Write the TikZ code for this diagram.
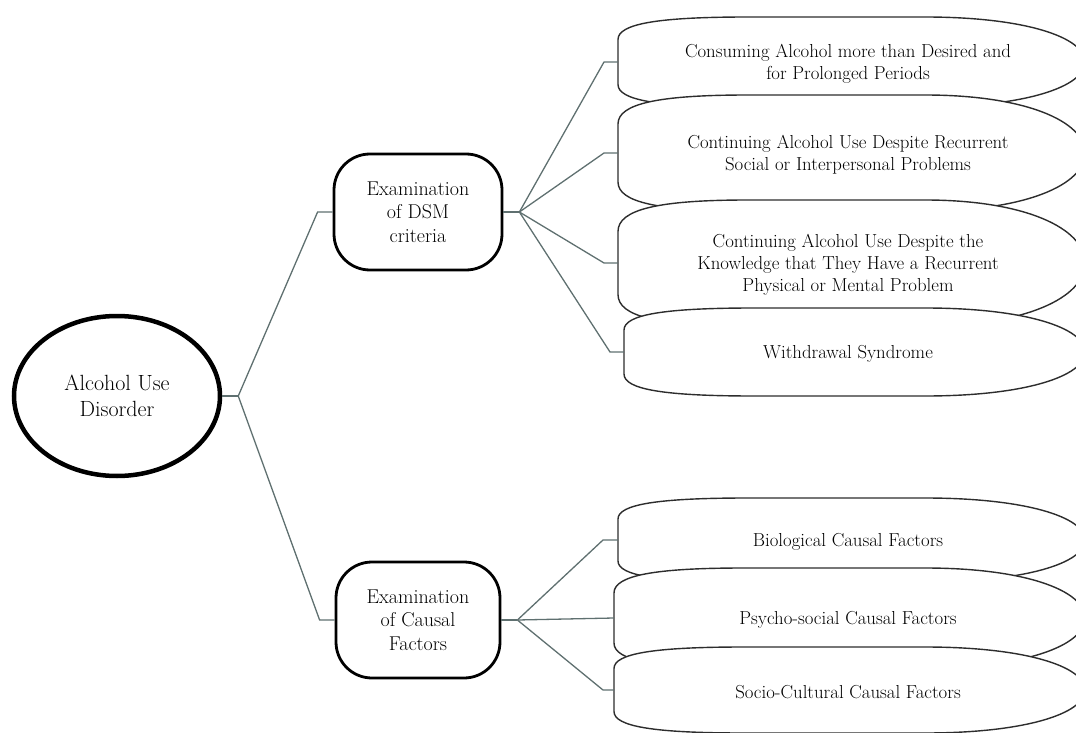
\documentclass[tikz,border=0pt]{standalone}
\usepackage{fontspec}
\usetikzlibrary{shapes.geometric}

\definecolor{linkgray}{RGB}{95,112,112}
\definecolor{leafgray}{RGB}{45,45,45}

\tikzset{
  rootnode/.style={ellipse, draw=black, line width=4.5pt, fill=white,
    minimum width=206pt, minimum height=160pt, inner sep=0pt, align=center,
    font=\fontsize{22}{25.5}\selectfont},
  midnode/.style={rectangle, rounded corners=36pt, draw=black, line width=2.8pt,
    fill=white, minimum width=168pt, minimum height=116pt, inner sep=0pt,
    align=center, font=\fontsize{20}{23.5}\selectfont},
  leafline/.style={draw=leafgray, line width=1.4pt, fill=white},
  leaftext/.style={align=center, inner sep=0pt, font=\fontsize{18.8}{21.8}\selectfont},
  link/.style={draw=linkgray, line width=1.3pt}
}

\newcommand{\tipx}{1085}
% leaf: name, left x, centre y, half height, text
\newcommand{\leafbox}[5]{%
  \filldraw[leafline] (#2,#3+0.5*#4) -- (#2,#3-0.5*#4)
    .. controls (#2,#3-0.85*#4) and (#2+40,#3-#4) .. (#2+130,#3-#4)
    -- (\tipx-160,#3-#4)
    .. controls (\tipx-60,#3-#4) and (\tipx,#3-0.55*#4) .. (\tipx,#3)
    .. controls (\tipx,#3+0.55*#4) and (\tipx-60,#3+#4) .. (\tipx-160,#3+#4)
    -- (#2+130,#3+#4)
    .. controls (#2+40,#3+#4) and (#2,#3+0.85*#4) .. (#2,#3+0.5*#4) -- cycle;
  \coordinate (#1-w) at (#2,#3);
  \node[leaftext] (#1) at (848,#3+2) {#5};
}

\begin{document}
\begin{tikzpicture}[x=1pt, y=-1pt]
\useasboundingbox (0,0) rectangle (1076,733);
\clip (0,0) rectangle (1076,733);

% main nodes
\node[rootnode] (root) at (117,396) {Alcohol Use\\Disorder};
\node[midnode] (dsm) at (418,212) {Examination\\of DSM\\criteria};
\node[midnode, minimum width=164pt] (causal) at (418,620) {Examination\\of Causal\\Factors};

% leaves, top to bottom so each covers the one above
\leafbox{consume}{618}{62}{45}{Consuming Alcohol more than Desired and\\for Prolonged Periods}
\leafbox{social}{618}{153}{58}{Continuing Alcohol Use Despite Recurrent\\Social or Interpersonal Problems}
\leafbox{physical}{618}{263}{63}{Continuing Alcohol Use Despite the\\Knowledge that They Have a Recurrent\\Physical or Mental Problem}
\leafbox{withdraw}{624}{352}{44}{Withdrawal Syndrome}
\leafbox{bio}{618}{540}{42}{Biological Causal Factors}
\leafbox{psycho}{614}{618}{50}{Psycho-social Causal Factors}
\leafbox{culture}{614}{690}{43}{Socio-Cultural Causal Factors}

% connectors
\coordinate (rootfan) at ([xshift=16pt]root.east);
\coordinate (dsmfan) at ([xshift=16pt]dsm.east);
\coordinate (causalfan) at ([xshift=16pt]causal.east);

\draw[link] (root.east) -- (rootfan);
\draw[link] (rootfan) -- ([xshift=-15pt]dsm.west) -- (dsm.west);
\draw[link] (rootfan) -- ([xshift=-15pt]causal.west) -- (causal.west);

\draw[link] (dsm.east) -- (dsmfan);
\draw[link] (dsmfan) -- ([xshift=-14pt]consume-w) -- (consume-w);
\draw[link] (dsmfan) -- ([xshift=-14pt]social-w) -- (social-w);
\draw[link] (dsmfan) -- ([xshift=-14pt]physical-w) -- (physical-w);
\draw[link] (dsmfan) -- ([xshift=-14pt]withdraw-w) -- (withdraw-w);

\draw[link] (causal.east) -- (causalfan);
\draw[link] (causalfan) -- ([xshift=-15pt]bio-w) -- (bio-w);
\draw[link] (causalfan) -- (psycho-w);
\draw[link] (causalfan) -- ([xshift=-11pt]culture-w) -- (culture-w);
\end{tikzpicture}
\end{document}
